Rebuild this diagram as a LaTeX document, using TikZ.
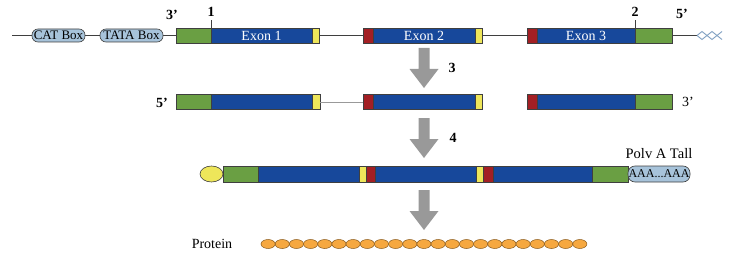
\documentclass[tikz,border=0pt]{standalone}
\usepackage{fontspec}
\setmainfont{Liberation Serif}
\usetikzlibrary{shapes.geometric}
\definecolor{cgreen}{HTML}{6A9F43}
\definecolor{cblue}{HTML}{17489B}
\definecolor{cred}{HTML}{A31F24}
\definecolor{cyellow}{HTML}{EEE65A}
\definecolor{clight}{HTML}{A7C3DA}
\definecolor{corange}{HTML}{F6A840}
\definecolor{cbeadline}{HTML}{8A5A1C}
\definecolor{segline}{HTML}{3F3F3F}
\definecolor{arrowgray}{HTML}{999999}
\definecolor{twist}{HTML}{7F9FC1}
\begin{document}
\begin{tikzpicture}[x=1pt,y=-1pt,
  seg/.style={draw=segline, line width=0.6pt, inner sep=0pt, outer sep=0pt, minimum height=15pt},
  exon/.style={text=white, font=\fontsize{14}{16}\selectfont},
  promo/.style={draw=segline, line width=0.6pt, fill=clight, rounded corners=6pt, inner sep=0pt, outer sep=0pt, minimum height=13pt, font=\fontsize{13}{15}\selectfont},
  lbl/.style={font=\fontsize{14}{16}\selectfont\bfseries, inner sep=0pt},
  plbl/.style={font=\fontsize{14}{16}\selectfont, inner sep=0pt},
  dna/.style={draw=segline, line width=0.6pt},
  rna/.style={draw=arrowgray, line width=1pt},
  bead/.style={ellipse, draw=cbeadline, line width=0.5pt, fill=corange, inner sep=0pt, minimum width=14.17pt, minimum height=9pt},
  procarrow/.pic={\fill[arrowgray] (-5.5,0) -- (5.5,0) -- (5.5,21) -- (14.5,21) -- (0,40) -- (-14.5,21) -- (-5.5,21) -- cycle;}
]
\useasboundingbox (0,0) rectangle (731,254);

% ---------- Row 1: gene ----------
\coordinate (l0) at (12,35.5);
\node[promo, minimum width=53pt] (cat) at (58.5,35.5) {CAT Box};
\node[promo, minimum width=63pt] (tata) at (131.5,35.5) {TATA Box};
\node[seg, fill=cgreen, minimum width=35pt] (g1) at (193.5,35.5) {};
\node[seg, fill=cblue, minimum width=101pt] (b1) at (261.5,35.5) {};
\node[exon] at (b1) {Exon 1};
\node[seg, fill=cyellow, minimum width=7pt] (y1) at (315.5,35.5) {};
\node[seg, fill=cred, minimum width=10pt] (r2) at (368,35.5) {};
\node[seg, fill=cblue, minimum width=102pt] (b2) at (424,35.5) {};
\node[exon] at (b2) {Exon 2};
\node[seg, fill=cyellow, minimum width=7pt] (y2) at (478.5,35.5) {};
\node[seg, fill=cred, minimum width=10pt] (r3) at (532,35.5) {};
\node[seg, fill=cblue, minimum width=98pt] (b3) at (586,35.5) {};
\node[exon] at (b3) {Exon 3};
\node[seg, fill=cgreen, minimum width=37pt] (g3) at (653.5,35.5) {};
\coordinate (r0) at (697,35.5);

\draw[dna] (l0) -- (cat.west);
\draw[dna] (cat.east) -- (tata.west);
\draw[dna] (tata.east) -- (g1.west);
\draw[dna] (y1.east) -- (r2.west);
\draw[dna] (y2.east) -- (r3.west);
\draw[dna] (g3.east) -- (r0);
\draw[twist, line width=0.9pt] (r0) -- ++(5,-4) -- ++(10,8) -- ++(5,-4) -- ++(5,-4);
\draw[twist, line width=0.9pt] (r0) -- ++(5,4) -- ++(10,-8) -- ++(5,4) -- ++(5,4);

\node[lbl] (t3) at (172,15) {3’};
\node[lbl] (n1) at (211,12) {1};
\node[lbl] (n2) at (635,12) {2};
\node[lbl] (t5) at (682,14) {5’};
\draw[dna] (g1.north east) -- (211,20);
\draw[dna] (b3.north east) -- (635,20);

% ---------- arrows ----------
\pic at (424,48) {procarrow};
\node[lbl] (s3) at (452,68) {3};
\pic at (424,118) {procarrow};
\node[lbl] (s4) at (453,138) {4};
\pic at (424,190) {procarrow};

% ---------- Row 2: pre-mRNA pieces ----------
\node[lbl] (p5) at (162,103) {5’};
\node[seg, fill=cgreen, minimum width=35pt] (mg1) at (193.5,102) {};
\node[seg, fill=cblue, minimum width=101pt] (mb1) at (261.5,102) {};
\node[seg, fill=cyellow, minimum width=8pt] (my1) at (316,102) {};
\node[seg, fill=cred, minimum width=10pt] (mr2) at (368,102) {};
\node[seg, fill=cblue, minimum width=102pt] (mb2) at (424,102) {};
\node[seg, fill=cyellow, minimum width=7pt] (my2) at (478.5,102) {};
\node[seg, fill=cred, minimum width=10pt] (mr3) at (532,102) {};
\node[seg, fill=cblue, minimum width=98pt] (mb3) at (586,102) {};
\node[seg, fill=cgreen, minimum width=37pt] (mg3) at (653.5,102) {};
\node[plbl] (p3) at (688,102) {3’};
\draw[rna] (my1.east) -- (mr2.west);

% ---------- Row 3: mature mRNA ----------
\node[ellipse, draw=segline, line width=0.6pt, fill=cyellow, inner sep=0pt, minimum width=23pt, minimum height=16pt] (capp) at (211.5,174) {};
\node[seg, fill=cgreen, minimum width=35pt, minimum height=16pt] (ng1) at (240.5,174) {};
\node[seg, fill=cblue, minimum width=101pt, minimum height=16pt] (nb1) at (308.5,174) {};
\node[seg, fill=cyellow, minimum width=7pt, minimum height=16pt] (ny1) at (362.5,174) {};
\node[seg, fill=cred, minimum width=9pt, minimum height=16pt] (nr2) at (370.5,174) {};
\node[seg, fill=cblue, minimum width=101pt, minimum height=16pt] (nb2) at (425.5,174) {};
\node[seg, fill=cyellow, minimum width=7pt, minimum height=16pt] (ny2) at (479.5,174) {};
\node[seg, fill=cred, minimum width=10pt, minimum height=16pt] (nr3) at (488,174) {};
\node[seg, fill=cblue, minimum width=99pt, minimum height=16pt] (nb3) at (542.5,174) {};
\node[seg, fill=cgreen, minimum width=36pt, minimum height=16pt] (ng3) at (610,174) {};
\node[promo, minimum width=62pt, minimum height=16pt, rounded corners=7pt, font=\fontsize{12}{14}\selectfont] (polya) at (659,174) {AAA...AAA};
\node[plbl, font=\fontsize{14.5}{16}\selectfont] (polyl) at (659,154) {Polv A Tall};

% ---------- Row 4: protein ----------
\node[plbl] (prot) at (212,244) {Protein};
\foreach \i in {0,...,22} {
  \node[bead] (bd\i) at ({268.09+\i*14.17},244) {};
}
\end{tikzpicture}
\end{document}
